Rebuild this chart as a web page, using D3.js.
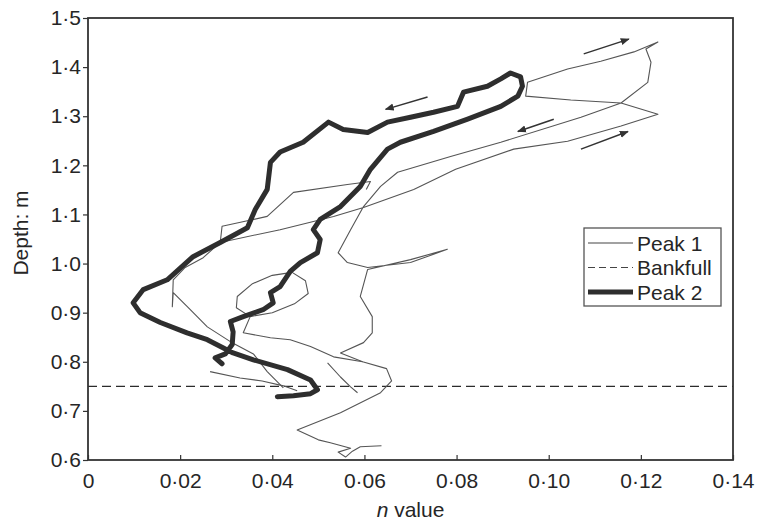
<!DOCTYPE html>
<html>
<head>
<meta charset="utf-8">
<script src="https://cdnjs.cloudflare.com/ajax/libs/d3/7.8.5/d3.min.js"></script>
<style>
    body { margin: 0; background: #fff; }
    text { font-family: "Liberation Sans", Arial, sans-serif; fill: #262626; }
</style>
</head>
<body>
<div id="chart"></div>
<script>

// ---- data: [n value, depth (m)] ----

// Peak 1, main trace (thin)
var peak1Main = [
    [0.0637,0.629],[0.0591,0.627],[0.0574,0.618],[0.0559,0.606],[0.0543,0.616],[0.0570,0.624],
    [0.0526,0.635],[0.0500,0.641],[0.0454,0.661],[0.0548,0.696],[0.0635,0.737],[0.0659,0.761],
    [0.0648,0.786],[0.0596,0.800],[0.0548,0.818],[0.0598,0.839],[0.0617,0.859],[0.0617,0.892],
    [0.0591,0.933],[0.0607,0.988],[0.0700,1.008],[0.0780,1.029],[0.0700,1.002],[0.0607,0.992],
    [0.0563,1.002],[0.0543,1.022],[0.0570,1.069],[0.0598,1.116],[0.0635,1.157],[0.0672,1.186],
    [0.0787,1.218],[0.0896,1.247],[0.1070,1.298],[0.1157,1.327],[0.1215,1.369],[0.1222,1.410],
    [0.1211,1.437],[0.1237,1.451],[0.1185,1.431],[0.1113,1.412],[0.1041,1.396],[0.0954,1.369],
    [0.0950,1.341],[0.1048,1.333],[0.1157,1.327],[0.1237,1.304],[0.1157,1.280],[0.1041,1.249],
    [0.0924,1.233],[0.0798,1.192],[0.0707,1.151],[0.0598,1.114],[0.0533,1.096],[0.0417,1.069],
    [0.0287,1.043],[0.0250,1.012],[0.0211,0.992],[0.0185,0.967],[0.0183,0.912],[0.0185,0.941],
    [0.0222,0.906],[0.0259,0.871],[0.0309,0.841],[0.0359,0.816],[0.0389,0.780],[0.0424,0.747]
];
// Peak 1, short pieces
var peak1Hook = [
    [0.0604,1.151],[0.0613,1.167],[0.0563,1.161],[0.0446,1.145],[0.0389,1.096],[0.0341,1.086],
    [0.0291,1.076],[0.0287,1.043]
];
var peak1Loop = [
    [0.0352,0.892],[0.0322,0.910],[0.0324,0.933],[0.0357,0.959],[0.0400,0.976],[0.0443,0.982],
    [0.0472,0.965],[0.0478,0.939],[0.0448,0.918],[0.0400,0.900],[0.0352,0.892],[0.0337,0.859],
    [0.0396,0.849],[0.0439,0.845],[0.0483,0.831],[0.0533,0.810],[0.0596,0.800]
];
var peak1Drop = [[0.0520,0.798],[0.0548,0.769],[0.0570,0.749],[0.0585,0.737]];
var peak1Bank = [[0.0265,0.780],[0.0330,0.767],[0.0378,0.761],[0.0424,0.751],[0.0454,0.741]];

// Peak 2 (thick)
var peak2 = [
    [0.0291,0.796],[0.0276,0.808],[0.0298,0.816],[0.0313,0.835],[0.0315,0.861],[0.0309,0.882],
    [0.0337,0.892],[0.0380,0.906],[0.0402,0.920],[0.0396,0.941],[0.0417,0.953],[0.0439,0.984],
    [0.0461,1.002],[0.0498,1.022],[0.0504,1.049],[0.0489,1.069],[0.0504,1.090],[0.0548,1.116],
    [0.0591,1.157],[0.0613,1.192],[0.0650,1.233],[0.0678,1.247],[0.0750,1.269],[0.0824,1.294],
    [0.0896,1.320],[0.0933,1.341],[0.0943,1.361],[0.0939,1.380],[0.0917,1.388],[0.0896,1.376],
    [0.0867,1.361],[0.0815,1.349],[0.0802,1.320],[0.0750,1.308],[0.0700,1.298],[0.0650,1.288],
    [0.0607,1.267],[0.0554,1.273],[0.0522,1.288],[0.0467,1.247],[0.0417,1.227],[0.0396,1.206],
    [0.0389,1.151],[0.0363,1.110],[0.0346,1.073],[0.0287,1.043],[0.0228,1.014],[0.0172,0.967],
    [0.0120,0.947],[0.0098,0.920],[0.0113,0.900],[0.0157,0.880],[0.0215,0.859],[0.0259,0.845],
    [0.0315,0.818],[0.0359,0.804],[0.0433,0.784],[0.0483,0.763],[0.0498,0.743],[0.0483,0.735],
    [0.0446,0.731],[0.0411,0.729]
];

var bankfullDepth = 0.75;

// direction arrows: [from, to]
var arrows = [
    [[0.1076,1.427],[0.1174,1.457]],
    [[0.1070,1.233],[0.1172,1.269]],
    [[0.1011,1.294],[0.0933,1.269]],
    [[0.0737,1.339],[0.0646,1.314]]
];

var xTicks = [0, 0.02, 0.04, 0.06, 0.08, 0.10, 0.12, 0.14];
var yTicks = [0.6, 0.7, 0.8, 0.9, 1.0, 1.1, 1.2, 1.3, 1.4, 1.5];
var legendLabels = ["Peak 1", "Bankfull", "Peak 2"];

// --------------------------------------------------------

var margin = {top: 18, right: 28, bottom: 62, left: 88};
var width = 761 - margin.left - margin.right;
var height = 522 - margin.top - margin.bottom;

var svg = d3.select("#chart").append("svg")
    .attr("width", 761)
    .attr("height", 522)
    .append("g")
    .attr("transform", "translate(" + margin.left + "," + margin.top + ")");

var x = d3.scaleLinear().domain([0, 0.14]).range([0, width]);
var y = d3.scaleLinear().domain([0.6, 1.5]).range([height, 0]);

// decimal point printed as a raised dot
var dotFormat = function(fmt) {
    return function(d) { return d === 0 ? "0" : d3.format(fmt)(d).replace(".", "\u00B7"); };
};

var line = d3.line()
    .x(function(d){ return x(d[0]); })
    .y(function(d){ return y(d[1]); });

// axes
var yAxis = svg.append("g")
    .call(d3.axisLeft(y).tickValues(yTicks).tickSize(5).tickPadding(2).tickFormat(dotFormat(".1f")));
var xAxis = svg.append("g")
    .attr("transform", "translate(0," + height + ")")
    .call(d3.axisBottom(x).tickValues(xTicks).tickSizeInner(-5).tickSizeOuter(0).tickPadding(13).tickFormat(dotFormat(".2f")));

[yAxis, xAxis].forEach(function(a){
    a.select(".domain").remove();
    a.selectAll(".tick line").attr("stroke", "#333").attr("stroke-width", 1.2);
    a.selectAll(".tick text").style("font-size", "21px").attr("fill", "#262626");
});

// bankfull line
svg.append("line")
    .attr("x1", x(0)).attr("x2", x(0.14))
    .attr("y1", y(bankfullDepth)).attr("y2", y(bankfullDepth))
    .attr("stroke", "#2b2b2b")
    .attr("stroke-width", 1.4)
    .attr("stroke-dasharray", "9,5");

// peak 1 pieces
svg.selectAll("path.peak1")
    .data([peak1Main, peak1Hook, peak1Loop, peak1Drop, peak1Bank])
    .enter().append("path")
    .attr("class", "peak1")
    .attr("d", line)
    .attr("fill", "none")
    .attr("stroke", "#555")
    .attr("stroke-width", 1.1)
    .attr("stroke-linejoin", "round");

// peak 2
svg.append("path")
    .datum(peak2)
    .attr("class", "peak2")
    .attr("d", line)
    .attr("fill", "none")
    .attr("stroke", "#2e2e2e")
    .attr("stroke-width", 5)
    .attr("stroke-linejoin", "round")
    .attr("stroke-linecap", "round");

// arrows
svg.append("defs").append("marker")
    .attr("id", "head")
    .attr("viewBox", "0 0 10 10")
    .attr("refX", 9).attr("refY", 5)
    .attr("markerWidth", 9).attr("markerHeight", 9)
    .attr("markerUnits", "userSpaceOnUse")
    .attr("orient", "auto")
    .append("path")
    .attr("d", "M0,1L10,5L0,9z")
    .attr("fill", "#333");

svg.selectAll("line.arrow")
    .data(arrows)
    .enter().append("line")
    .attr("class", "arrow")
    .attr("x1", function(d){ return x(d[0][0]); })
    .attr("y1", function(d){ return y(d[0][1]); })
    .attr("x2", function(d){ return x(d[1][0]); })
    .attr("y2", function(d){ return y(d[1][1]); })
    .attr("stroke", "#333")
    .attr("stroke-width", 1.5)
    .attr("marker-end", "url(#head)");

// frame
svg.append("rect")
    .attr("width", width).attr("height", height)
    .attr("fill", "none")
    .attr("stroke", "#333")
    .attr("stroke-width", 1.8);

// legend
var legend = svg.append("g")
    .attr("transform", "translate(" + (width - 149) + "," + 210 + ")");

legend.append("rect")
    .attr("width", 137).attr("height", 78)
    .attr("fill", "#fff")
    .attr("stroke", "#555")
    .attr("stroke-width", 1.3);

var legendRow = legend.selectAll("g.row")
    .data(legendLabels)
    .enter().append("g")
    .attr("class", "row")
    .attr("transform", function(d, i){ return "translate(0," + (15 + i * 24.5) + ")"; });

legendRow.append("line")
    .attr("x1", 4).attr("x2", 49)
    .attr("stroke", function(d, i){ return i === 2 ? "#2e2e2e" : "#444"; })
    .attr("stroke-width", function(d, i){ return i === 2 ? 5 : 1.2; })
    .attr("stroke-dasharray", function(d, i){ return i === 1 ? "7,4" : null; });

legendRow.append("text")
    .attr("x", 53)
    .attr("dy", "0.36em")
    .style("font-size", "21px")
    .text(function(d){ return d; });

// axis titles
svg.append("text")
    .attr("transform", "translate(" + (-60) + "," + (height / 2 - 6) + ") rotate(-90)")
    .attr("text-anchor", "middle")
    .style("font-size", "21px")
    .text("Depth: m");

var xTitle = svg.append("text")
    .attr("x", width / 2 + 0)
    .attr("y", height + 57)
    .attr("text-anchor", "middle")
    .style("font-size", "21px");
xTitle.append("tspan").style("font-style", "italic").text("n");
xTitle.append("tspan").text(" value");

</script>
</body>
</html>
